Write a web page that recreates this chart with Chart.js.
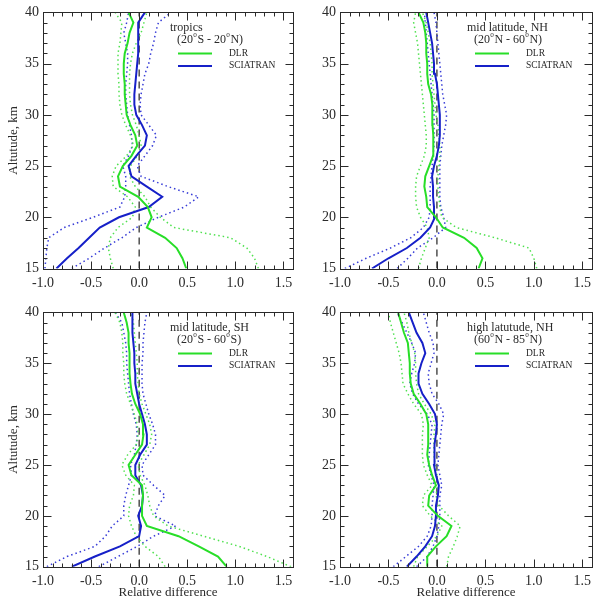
<!DOCTYPE html>
<html>
<head>
<meta charset="utf-8">
<script src="https://cdn.jsdelivr.net/npm/chart.js@4.4.1/dist/chart.umd.min.js"></script>
<style>
  body { margin: 0; background: #fff; }
  #wrap { position: relative; width: 601px; height: 600px; background: #fff; }
  canvas { position: absolute; }
</style>
</head>
<body>
<div id="wrap">
  <canvas id="tropics" width="300" height="300" style="left:0;top:0"></canvas>
  <canvas id="midNH" width="301" height="300" style="left:300px;top:0"></canvas>
  <canvas id="midSH" width="300" height="300" style="left:0;top:300px"></canvas>
  <canvas id="highNH" width="301" height="300" style="left:300px;top:300px"></canvas>
</div>
<script>
// Data - START
const ALTITUDES = [15, 16, 17, 18, 19, 20, 21, 22, 23, 24, 25, 26, 27, 28, 29, 30, 31, 32, 33, 34, 35, 36, 37, 38, 39, 40];

// tropics (20S - 20N)
const tropDlr   = [0.49, 0.45, 0.39, 0.27, 0.08, 0.13, 0.09, -0.01, -0.20, -0.22, -0.17, -0.08, -0.02, -0.04, -0.09, -0.13, -0.14, -0.15, -0.15, -0.16, -0.16, -0.15, -0.12, -0.10, -0.06, -0.11];
const tropDlrLo = [-0.27, -0.30, -0.32, -0.30, -0.22, -0.07, -0.04, -0.12, -0.27, -0.28, -0.24, -0.13, -0.06, -0.09, -0.14, -0.18, -0.20, -0.21, -0.21, -0.22, -0.22, -0.22, -0.20, -0.19, -0.18, -0.25];
const tropDlrHi = [1.24, 1.20, 1.12, 0.95, 0.36, 0.22, 0.12, 0.06, -0.04, -0.10, -0.09, -0.02, 0.02, 0.00, -0.03, -0.07, -0.09, -0.10, -0.10, -0.10, -0.09, -0.07, -0.03, 0.02, 0.05, 0.08];
const tropSci   = [-0.86, -0.75, -0.63, -0.52, -0.41, -0.21, 0.10, 0.24, 0.08, -0.08, -0.11, -0.03, 0.06, 0.08, 0.03, -0.03, -0.05, -0.05, -0.04, -0.03, -0.02, -0.01, -0.01, -0.01, -0.01, 0.06];
const tropSciLo = [-0.98, -0.97, -0.96, -0.94, -0.78, -0.48, -0.20, -0.15, -0.14, -0.14, -0.17, -0.11, -0.07, -0.08, -0.10, -0.12, -0.13, -0.14, -0.14, -0.13, -0.12, -0.12, -0.14, -0.16, -0.13, -0.11];
const tropSciHi = [-0.70, -0.52, -0.36, -0.18, -0.03, 0.20, 0.47, 0.62, 0.30, 0.02, -0.02, 0.06, 0.14, 0.18, 0.10, 0.02, 0.01, 0.02, 0.04, 0.06, 0.10, 0.12, 0.15, 0.17, 0.20, 0.33];

// mid latitude, NH (20N - 60N)
const nhDlr   = [0.43, 0.47, 0.41, 0.28, 0.06, -0.01, -0.10, -0.11, -0.13, -0.12, -0.08, -0.04, -0.035, -0.04, -0.045, -0.045, -0.05, -0.06, -0.09, -0.10, -0.10, -0.11, -0.11, -0.12, -0.14, -0.19];
const nhDlrLo = [-0.19, -0.16, -0.12, -0.08, -0.10, -0.17, -0.21, -0.22, -0.22, -0.21, -0.17, -0.13, -0.11, -0.11, -0.12, -0.13, -0.14, -0.15, -0.16, -0.17, -0.18, -0.19, -0.20, -0.22, -0.24, -0.22];
const nhDlrHi = [1.03, 1.00, 0.95, 0.60, 0.20, 0.05, 0.03, 0.02, 0.01, 0.01, 0.02, 0.03, 0.03, 0.02, 0.01, -0.01, -0.02, -0.03, -0.04, -0.05, -0.05, -0.06, -0.07, -0.09, -0.11, -0.15];
const nhSci   = [-0.67, -0.50, -0.31, -0.17, -0.07, -0.02, -0.03, -0.04, -0.04, -0.05, -0.03, 0.00, 0.02, 0.03, 0.03, 0.03, 0.02, 0.01, 0.00, -0.02, -0.03, -0.04, -0.05, -0.07, -0.09, -0.11];
const nhSciLo = [-0.95, -0.73, -0.48, -0.27, -0.14, -0.08, -0.07, -0.07, -0.07, -0.06, -0.05, -0.04, -0.03, -0.03, -0.03, -0.03, -0.04, -0.05, -0.06, -0.07, -0.08, -0.09, -0.10, -0.11, -0.12, -0.13];
const nhSciHi = [-0.41, -0.30, -0.20, -0.04, 0.09, 0.07, 0.04, 0.03, 0.03, 0.03, 0.03, 0.04, 0.05, 0.07, 0.09, 0.10, 0.08, 0.06, 0.05, 0.04, 0.03, 0.02, 0.01, 0.00, -0.01, -0.03];

// mid latitude, SH (20S - 60S)
const shDlr   = [0.91, 0.82, 0.62, 0.41, 0.08, 0.03, 0.03, 0.04, 0.03, -0.08, -0.11, -0.04, 0.03, 0.045, 0.04, 0.01, -0.04, -0.075, -0.09, -0.10, -0.10, -0.10, -0.11, -0.11, -0.13, -0.16];
const shDlrLo = [0.27, 0.20, 0.06, -0.03, -0.08, -0.11, -0.10, -0.06, -0.05, -0.14, -0.18, -0.12, -0.03, -0.01, -0.02, -0.05, -0.09, -0.13, -0.15, -0.16, -0.16, -0.17, -0.17, -0.18, -0.20, -0.25];
const shDlrHi = [1.58, 1.33, 1.04, 0.67, 0.30, 0.15, 0.11, 0.09, 0.06, 0.01, -0.01, 0.05, 0.11, 0.13, 0.11, 0.07, 0.03, 0.00, -0.01, -0.02, -0.02, -0.03, -0.04, -0.05, -0.06, -0.08];
const shSci   = [-0.70, -0.46, -0.20, 0.00, 0.02, -0.01, 0.03, 0.04, 0.02, -0.04, -0.04, 0.01, 0.08, 0.08, 0.06, 0.03, 0.00, -0.02, -0.04, -0.04, -0.05, -0.05, -0.06, -0.07, -0.07, -0.07];
const shSciLo = [-0.96, -0.75, -0.46, -0.35, -0.28, -0.16, -0.16, -0.14, -0.11, -0.08, -0.09, -0.05, -0.03, -0.02, -0.03, -0.06, -0.08, -0.10, -0.11, -0.12, -0.13, -0.13, -0.14, -0.16, -0.18, -0.25];
const shSciHi = [-0.42, -0.22, -0.02, 0.15, 0.38, 0.16, 0.20, 0.27, 0.15, 0.04, 0.03, 0.10, 0.17, 0.17, 0.14, 0.10, 0.07, 0.04, 0.03, 0.03, 0.03, 0.04, 0.04, 0.05, 0.06, 0.08];

// high latutude, NH (60N - 85N)
const hiDlr   = [-0.10, -0.10, -0.01, 0.10, 0.15, 0.01, -0.09, -0.08, -0.01, -0.05, -0.08, -0.10, -0.09, -0.09, -0.09, -0.11, -0.17, -0.24, -0.27, -0.28, -0.28, -0.29, -0.30, -0.34, -0.37, -0.40];
const hiDlrLo = [-0.24, -0.20, -0.10, 0.00, 0.05, -0.07, -0.15, -0.14, -0.05, -0.10, -0.14, -0.15, -0.15, -0.15, -0.14, -0.16, -0.24, -0.30, -0.35, -0.36, -0.37, -0.39, -0.42, -0.45, -0.48, -0.50];
const hiDlrHi = [0.10, 0.12, 0.17, 0.21, 0.24, 0.12, 0.02, -0.01, 0.01, 0.00, -0.02, -0.03, -0.03, -0.03, -0.02, -0.06, -0.13, -0.19, -0.21, -0.22, -0.22, -0.23, -0.26, -0.29, -0.31, -0.34];
const hiSci   = [-0.31, -0.21, -0.12, -0.05, -0.02, -0.01, -0.01, 0.01, 0.02, -0.01, -0.03, -0.03, -0.02, -0.01, 0.00, -0.02, -0.08, -0.15, -0.19, -0.19, -0.16, -0.12, -0.15, -0.21, -0.25, -0.29];
const hiSciLo = [-0.45, -0.32, -0.19, -0.10, -0.06, -0.05, -0.05, -0.04, -0.03, -0.06, -0.09, -0.08, -0.07, -0.06, -0.05, -0.10, -0.19, -0.25, -0.28, -0.26, -0.23, -0.22, -0.26, -0.31, -0.36, -0.41];
const hiSciHi = [-0.21, -0.10, -0.04, 0.00, 0.02, 0.03, 0.03, 0.03, 0.05, 0.03, 0.01, 0.02, 0.03, 0.04, 0.05, 0.07, 0.02, -0.05, -0.08, -0.09, -0.06, -0.03, -0.04, -0.08, -0.11, -0.14];

const X_MIN = -1.0;
const X_MAX = 1.6;
const Y_MIN = 15;
const Y_MAX = 40;
const X_TICK_STEP = 0.5;
const Y_TICK_STEP = 5;
const SERIES_LABELS = ['DLR', 'SCIATRAN'];
// Data - END

const SERIF = '"Liberation Serif", "DejaVu Serif", serif';
const GREEN = 'rgb(40, 222, 40)';
const GREEN_DOT = 'rgb(80, 225, 80)';
const BLUE = 'rgb(22, 32, 200)';
const BLUE_DOT = 'rgb(55, 60, 215)';
const INK = '#2a2a2a';

let PANELS = [
    { id: 'tropics', title: 'tropics', range: '(20^oS - 20^oN)',
      dlr: tropDlr, dlrLo: tropDlrLo, dlrHi: tropDlrHi, sci: tropSci, sciLo: tropSciLo, sciHi: tropSciHi,
      yTitle: true, xTitle: false, padTop: 10, padRight: 7, yW: 43, xH: 31.5 },
    { id: 'midNH', title: 'mid latitude, NH', range: '(20^oN - 60^oN)',
      dlr: nhDlr, dlrLo: nhDlrLo, dlrHi: nhDlrHi, sci: nhSci, sciLo: nhSciLo, sciHi: nhSciHi,
      yTitle: false, xTitle: false, padTop: 10, padRight: 9, yW: 40, xH: 31.5 },
    { id: 'midSH', title: 'mid latitude, SH', range: '(20^oS - 60^oS)',
      dlr: shDlr, dlrLo: shDlrLo, dlrHi: shDlrHi, sci: shSci, sciLo: shSciLo, sciHi: shSciHi,
      yTitle: true, xTitle: true, padTop: 6.5, padRight: 7, yW: 43, xH: 33.3 },
    { id: 'highNH', title: 'high latutude, NH', range: '(60^oN - 85^oN)',
      dlr: hiDlr, dlrLo: hiDlrLo, dlrHi: hiDlrHi, sci: hiSci, sciLo: hiSciLo, sciHi: hiSciHi,
      yTitle: false, xTitle: true, padTop: 6.5, padRight: 9, yW: 40, xH: 33.3 }
];

// text with "^o" drawn as a small raised o (degree)
let drawDegreeText = (ctx, str, x, y, size) => {
    let parts = str.split('^o');
    let cx = x;
    parts.forEach((part, i) => {
        ctx.font = size + 'px ' + SERIF;
        ctx.fillText(part, cx, y);
        cx += ctx.measureText(part).width;
        if (i < parts.length - 1) {
            ctx.font = (size * 0.6) + 'px ' + SERIF;
            ctx.fillText('o', cx + 0.3, y - size * 0.4);
            cx += ctx.measureText('o').width + 0.8;
        }
    });
};

// box with inward ticks on all four sides
const frameTicks = {
    id: 'frameTicks',
    afterDraw(chart) {
        let { ctx, chartArea: a, scales } = chart;
        let L = Math.round(a.left) + 0.5, R = Math.round(a.right) + 0.5;
        let T = Math.round(a.top) + 0.5, B = Math.round(a.bottom) + 0.5;
        ctx.save();
        ctx.strokeStyle = INK;
        ctx.lineWidth = 1;
        ctx.strokeRect(L, T, R - L, B - T);
        ctx.beginPath();
        for (let k = Math.round(X_MIN * 10); k <= Math.round(X_MAX * 10); k++) {
            let px = Math.round(scales.x.getPixelForValue(k / 10)) + 0.5;
            let len = k % 5 === 0 ? 8 : 4;
            ctx.moveTo(px, B); ctx.lineTo(px, B - len);
            ctx.moveTo(px, T); ctx.lineTo(px, T + len);
        }
        for (let alt = Y_MIN; alt <= Y_MAX; alt++) {
            let py = Math.round(scales.y.getPixelForValue(alt)) + 0.5;
            let len = alt % 5 === 0 ? 8 : 4;
            ctx.moveTo(L, py); ctx.lineTo(L + len, py);
            ctx.moveTo(R, py); ctx.lineTo(R - len, py);
        }
        ctx.stroke();
        ctx.restore();
    }
};

// region title + legend, placed from the plot corner
const panelLegend = {
    id: 'panelLegend',
    afterDatasetsDraw(chart, args, opts) {
        let { ctx, chartArea: a } = chart;
        let x0 = a.left + 127;
        ctx.save();
        ctx.fillStyle = INK;
        ctx.textBaseline = 'middle';
        ctx.textAlign = 'left';
        ctx.font = '12px ' + SERIF;
        ctx.fillText(opts.title, x0, a.top + 15);
        drawDegreeText(ctx, opts.range, x0 + 7, a.top + 27.5, 12);
        [GREEN, BLUE].forEach((col, i) => {
            let ly = a.top + 41 + i * 12.5;
            ctx.strokeStyle = col;
            ctx.lineWidth = 2;
            ctx.beginPath();
            ctx.moveTo(x0 + 8, ly);
            ctx.lineTo(x0 + 42, ly);
            ctx.stroke();
            ctx.font = '9.5px ' + SERIF;
            ctx.fillText(SERIES_LABELS[i], x0 + 59, ly);
        });
        ctx.restore();
    }
};

let makePanel = (p) => {
    let pts = (arr) => ALTITUDES.map((alt, i) => ({ x: arr[i], y: alt }));
    let solid = (arr, col) => ({ data: pts(arr), borderColor: col, borderWidth: 2 });
    let dotted = (arr, col) => ({ data: pts(arr), borderColor: col, borderWidth: 1.5, borderDash: [1.5, 3] });
    let data = {
        datasets: [
            solid(p.dlr, GREEN),
            solid(p.sci, BLUE),
            dotted(p.dlrLo, GREEN_DOT),
            dotted(p.dlrHi, GREEN_DOT),
            dotted(p.sciLo, BLUE_DOT),
            dotted(p.sciHi, BLUE_DOT),
            { data: [{ x: 0, y: Y_MIN }, { x: 0, y: Y_MAX }], borderColor: '#222', borderWidth: 1.2, borderDash: [7, 5] }
        ]
    };
    let tickFont = { family: SERIF, size: 14 };
    let config = {
        type: 'line',
        data: data,
        options: {
            responsive: false,
            animation: false,
            devicePixelRatio: 1,
            elements: { point: { radius: 0 }, line: { tension: 0, fill: false } },
            layout: { padding: { top: p.padTop, right: p.padRight, bottom: 0, left: 0 } },
            plugins: {
                legend: { display: false },
                tooltip: { enabled: false },
                panelLegend: { title: p.title, range: p.range }
            },
            scales: {
                x: {
                    type: 'linear',
                    min: X_MIN,
                    max: X_MAX,
                    grid: { display: false, drawTicks: false },
                    border: { display: false },
                    ticks: {
                        stepSize: X_TICK_STEP,
                        includeBounds: false,
                        autoSkip: false,
                        maxRotation: 0,
                        padding: 6,
                        color: INK,
                        font: tickFont,
                        callback: (v) => Number(v).toFixed(1)
                    },
                    title: {
                        display: p.xTitle,
                        text: 'Relative difference',
                        color: INK,
                        font: { family: SERIF, size: 13 },
                        padding: { top: 0, bottom: 0 }
                    },
                    afterFit: (s) => { s.height = p.xH; }
                },
                y: {
                    type: 'linear',
                    min: Y_MIN,
                    max: Y_MAX,
                    grid: { display: false, drawTicks: false },
                    border: { display: false },
                    ticks: {
                        stepSize: Y_TICK_STEP,
                        includeBounds: false,
                        padding: 4,
                        color: INK,
                        font: tickFont,
                        callback: (v) => String(v)
                    },
                    title: {
                        display: p.yTitle,
                        text: 'Altutude, km',
                        color: INK,
                        font: { family: SERIF, size: 13 },
                        padding: { top: 6, bottom: 0 }
                    },
                    afterFit: (s) => { s.width = p.yW; }
                }
            }
        },
        plugins: [frameTicks, panelLegend]
    };
    return new Chart(document.getElementById(p.id), config);
};

PANELS.forEach((p) => makePanel(p));
</script>
</body>
</html>
